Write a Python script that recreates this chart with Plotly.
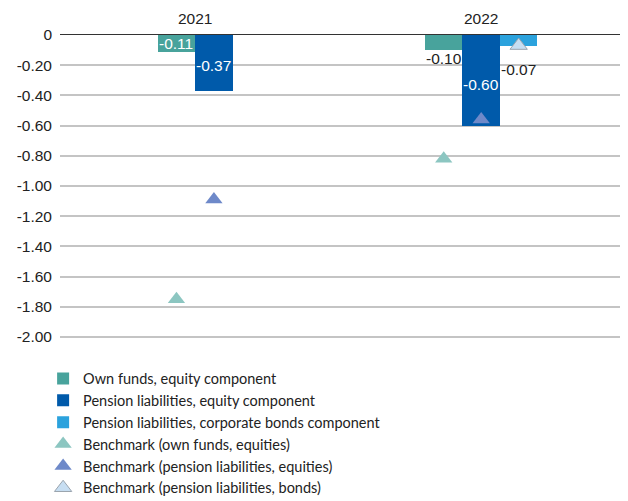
import plotly.graph_objects as go

# ---- data ----
years = ["2021", "2022"]
own_funds_equity = [-0.11, -0.10]
pension_equity = [-0.37, -0.60]
pension_corp_bonds = [None, -0.07]
bench_own_funds = [-1.75, -0.82]
bench_pension_equity = [-1.09, -0.56]
bench_pension_bonds = [None, -0.07]
y_ticks = [0, -0.2, -0.4, -0.6, -0.8, -1.0, -1.2, -1.4, -1.6, -1.8, -2.0]
y_tick_labels = ["0", "-0.20", "-0.40", "-0.60", "-0.80", "-1.00", "-1.20",
                 "-1.40", "-1.60", "-1.80", "-2.00"]

# ---- style ----
BAR_W = 0.131
NARROW = "Liberation Sans Narrow, Arial Narrow, Liberation Sans, Arial, sans-serif"
LEG_FONT = "Lato, Noto Sans, sans-serif"
bar_series = [
    ("Own funds, equity component", own_funds_equity, "#48A39C"),
    ("Pension liabilities, equity component", pension_equity, "#005AAA"),
    ("Pension liabilities, corporate bonds component", pension_corp_bonds, "#2BA2DD"),
]
bench_series = [
    ("Benchmark (own funds, equities)", bench_own_funds, "#8CC6C1", "#8CC6C1"),
    ("Benchmark (pension liabilities, equities)", bench_pension_equity, "#6E89C9", "#6E89C9"),
    ("Benchmark (pension liabilities, bonds)", bench_pension_bonds, "#C7DEF2", "#9AA4AE"),
]
# label placement per series (per year): 'in' = inside (white), 'out' = below bar (dark)
label_place = [["in", "out"], ["in", "in"], [None, "out"]]
label_shift = [[0, 2], [-3, -4], [0, -13]]

# x positions of each series within each year group (through numeric axis)
def offsets():
    pos = [[None] * len(years) for _ in bar_series]
    for j in range(len(years)):
        present = [i for i, s in enumerate(bar_series) if s[1][j] is not None]
        n = len(present)
        for k, i in enumerate(present):
            pos[i][j] = j + (k - (n - 1) / 2) * BAR_W
    return pos

pos = offsets()
fig = go.Figure()
for i, (name, vals, col) in enumerate(bar_series):
    xs = [pos[i][j] for j in range(len(years)) if vals[j] is not None]
    ys = [v for v in vals if v is not None]
    fig.add_trace(go.Bar(x=xs, y=ys, width=BAR_W, name=name, marker_color=col,
                         marker_line_width=0, hoverinfo="skip"))

for i, (name, vals, col, lcol) in enumerate(bench_series):
    xs = [pos[i][j] for j in range(len(years)) if vals[j] is not None]
    ys = [v for v in vals if v is not None]
    fig.add_trace(go.Scatter(x=xs, y=ys, mode="markers", name=name,
                             marker=dict(symbol="triangle-up", size=15, color=col,
                                         line=dict(color=lcol, width=1 if lcol != col else 0)),
                             hoverinfo="skip"))

for i, (name, vals, col) in enumerate(bar_series):
    for j, v in enumerate(vals):
        if v is None:
            continue
        place = label_place[i][j]
        txt = f"{v:.2f}"
        if place == "in":
            fig.add_annotation(x=pos[i][j], y=v / 2, text=txt, showarrow=False,
                               font=dict(family=NARROW, size=15.5, color="white"),
                               yshift=label_shift[i][j])
        else:
            fig.add_annotation(x=pos[i][j], y=v, text=txt, showarrow=False, yanchor="top",
                               font=dict(family=NARROW, size=15.5, color="#222222"),
                               yshift=label_shift[i][j])

# page body has an 8px margin: figure is sized to fill the rest of the window
fig.update_layout(
    width=620, height=493,
    margin=dict(l=52, r=5, t=27, b=161, autoexpand=False),
    plot_bgcolor="white", paper_bgcolor="white",
    showlegend=True,
    legend=dict(x=-0.03, xanchor="left", y=-0.074, yanchor="top",
                font=dict(family=LEG_FONT, size=14.5, color="#222222"),
                tracegroupgap=0, itemclick=False),
    xaxis=dict(side="top", range=[-0.4727, 1.4958], tickvals=list(range(len(years))),
               ticktext=years, showgrid=False, zeroline=False, automargin=False,
               showline=True, linecolor="#333333", linewidth=1,
               tickfont=dict(family=NARROW, size=15.5, color="#222222"),
               ticks="", ticklabelstandoff=4),
    yaxis=dict(range=[-2.02, 0], tickvals=y_ticks, ticktext=y_tick_labels,
               showgrid=True, gridcolor="#C4C4C4", gridwidth=1.5, zeroline=False,
               showline=False, ticks="", ticklabelstandoff=7, automargin=False,
               tickfont=dict(family=NARROW, size=15.5, color="#222222")),
    bargap=0,
)

fig.write_html("out.html")
